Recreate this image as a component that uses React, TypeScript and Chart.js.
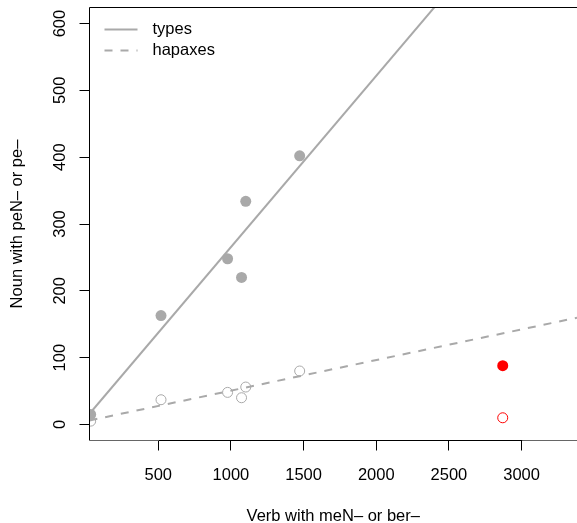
import React, { useEffect, useRef } from "react";
import { Chart, registerables } from "chart.js";

Chart.register(...registerables);

// ---- data ----
const verbCounts = [35, 519, 977, 1073, 1102, 1473];
const nounTypes = [15, 163, 248, 220, 334, 402];
const nounHapaxes = [5, 37, 48, 40, 56, 80];
const outlierVerb = [2870];
const outlierTypes = [88];
const outlierHapaxes = [10];
const xTicks = [500, 1000, 1500, 2000, 2500, 3000];
const yTicks = [0, 100, 200, 300, 400, 500, 600];
const xRange = [27, 3381];
const yRange = [-24, 624];
const legendLabels = ["types", "hapaxes"];
const xTitle = "Verb with meN\u2013 or ber\u2013";
const yTitle = "Noun with peN\u2013 or pe\u2013";

const FONT = "'Liberation Sans', Arial, Helvetica, sans-serif";
const GRAY = "#A9A9A9";
const RED = "#FF0000";
const DASH = [8, 8];

function leastSquares(xs: number[], ys: number[]) {
  const n = xs.length;
  const mx = xs.reduce((a, b) => a + b, 0) / n;
  const my = ys.reduce((a, b) => a + b, 0) / n;
  let sxy = 0;
  let sxx = 0;
  for (let i = 0; i < n; i++) {
    sxy += (xs[i] - mx) * (ys[i] - my);
    sxx += (xs[i] - mx) * (xs[i] - mx);
  }
  const slope = sxy / sxx;
  return { intercept: my - slope * mx, slope };
}

function fitLine(xs: number[], ys: number[]) {
  const { intercept, slope } = leastSquares(xs, ys);
  return [xRange[0], xRange[1]].map((x) => ({ x, y: intercept + slope * x }));
}

const framePlugin = {
  id: "frameAndLegend",
  afterDraw(chart: any) {
    const { ctx, chartArea } = chart;
    const { left, right, top, bottom } = chartArea;
    const xs = chart.scales.x;
    const ys = chart.scales.y;
    ctx.save();
    ctx.lineWidth = 1;
    ctx.setLineDash([]);
    // box (top + left)
    ctx.strokeStyle = "#000";
    ctx.beginPath();
    ctx.moveTo(left, bottom);
    ctx.lineTo(left, top);
    ctx.lineTo(right, top);
    ctx.stroke();
    // bottom box parts outside the axis range
    const x0 = Math.round(xs.getPixelForValue(xTicks[0])) + 0.5;
    const x1 = Math.round(xs.getPixelForValue(xTicks[xTicks.length - 1])) + 0.5;
    ctx.strokeStyle = "#666";
    ctx.beginPath();
    ctx.moveTo(left, bottom);
    ctx.lineTo(x0, bottom);
    ctx.moveTo(x1, bottom);
    ctx.lineTo(right, bottom);
    ctx.stroke();
    ctx.strokeStyle = "#000";
    ctx.beginPath();
    ctx.moveTo(x0, bottom);
    ctx.lineTo(x1, bottom);
    ctx.stroke();
    const y0 = ys.getPixelForValue(yTicks[0]);
    const y1 = ys.getPixelForValue(yTicks[yTicks.length - 1]);
    ctx.beginPath();
    ctx.moveTo(left, y0);
    ctx.lineTo(left, y1);
    ctx.stroke();

    // legend
    const lx0 = left + 15;
    const lx1 = left + 48;
    const tx = left + 63;
    const rowY = [top + 22, top + 43];
    ctx.lineWidth = 2;
    ctx.strokeStyle = GRAY;
    legendLabels.forEach((label, i) => {
      ctx.setLineDash(i === 0 ? [] : DASH);
      ctx.beginPath();
      ctx.moveTo(lx0, rowY[i]);
      ctx.lineTo(lx1, rowY[i]);
      ctx.stroke();
      ctx.setLineDash([]);
      ctx.fillStyle = "#000";
      ctx.font = `16.5px ${FONT}`;
      ctx.textAlign = "left";
      ctx.textBaseline = "alphabetic";
      ctx.fillText(label, tx, rowY[i] + 4);
    });
    ctx.restore();
  },
};

export default function App() {
  const ref = useRef<HTMLCanvasElement | null>(null);

  useEffect(() => {
    if (!ref.current) return;
    const typesPts = verbCounts.map((x, i) => ({ x, y: nounTypes[i] }));
    const hapaxPts = verbCounts.map((x, i) => ({ x, y: nounHapaxes[i] }));
    const redTypes = outlierVerb.map((x, i) => ({ x, y: outlierTypes[i] }));
    const redHapax = outlierVerb.map((x, i) => ({ x, y: outlierHapaxes[i] }));

    const chart = new Chart(ref.current, {
      type: "scatter",
      data: {
        datasets: [
          {
            label: "types fit",
            type: "line",
            data: fitLine(verbCounts, nounTypes),
            borderColor: GRAY,
            borderWidth: 2,
            pointRadius: 0,
            fill: false,
            clip: 0,
            order: 0,
          } as any,
          {
            label: "hapaxes fit",
            type: "line",
            data: fitLine(verbCounts, nounHapaxes),
            borderColor: GRAY,
            borderWidth: 2,
            borderDash: DASH,
            pointRadius: 0,
            fill: false,
            clip: 0,
            order: 1,
          } as any,
          {
            label: "types",
            data: typesPts,
            backgroundColor: GRAY,
            borderColor: GRAY,
            borderWidth: 0,
            pointRadius: 5.5,
            clip: 0,
            order: 2,
          },
          {
            label: "hapaxes",
            data: hapaxPts,
            backgroundColor: "rgba(0,0,0,0)",
            borderColor: GRAY,
            borderWidth: 1,
            pointRadius: 5,
            clip: 0,
            order: 3,
          },
          {
            label: "outlier types",
            data: redTypes,
            backgroundColor: RED,
            borderColor: RED,
            borderWidth: 0,
            pointRadius: 5.5,
            clip: 0,
            order: 4,
          },
          {
            label: "outlier hapaxes",
            data: redHapax,
            backgroundColor: "rgba(0,0,0,0)",
            borderColor: RED,
            borderWidth: 1,
            pointRadius: 5,
            clip: 0,
            order: 5,
          },
        ],
      },
      options: {
        animation: false,
        responsive: false,
        devicePixelRatio: 1,
        events: [],
        layout: { autoPadding: false, padding: { left: 0, right: 0, top: 7.5, bottom: 0 } },
        plugins: {
          legend: { display: false },
          tooltip: { enabled: false },
        },
        scales: {
          x: {
            type: "linear",
            position: "bottom",
            min: xRange[0],
            max: xRange[1],
            afterBuildTicks: (s: any) => {
              s.ticks = xTicks.map((value) => ({ value }));
            },
            afterFit: (s: any) => {
              s.height = 82.5;
              s.paddingLeft = 0;
              s.paddingRight = 0;
              s.paddingTop = 0;
              s.paddingBottom = 0;
            },
            grid: {
              display: true,
              drawOnChartArea: false,
              drawTicks: true,
              tickLength: 10,
              color: "#000",
              lineWidth: 1,
            },
            border: { display: false },
            ticks: {
              autoSkip: false,
              maxRotation: 0,
              minRotation: 0,
              padding: 15,
              color: "#000",
              font: { family: FONT, size: 16.5 },
              callback: (v: any) => String(v),
            },
            title: {
              display: true,
              text: xTitle,
              color: "#000",
              font: { family: FONT, size: 16.5, lineHeight: 0.85 },
              padding: 0,
            },
          },
          y: {
            type: "linear",
            position: "left",
            min: yRange[0],
            max: yRange[1],
            afterBuildTicks: (s: any) => {
              s.ticks = yTicks.map((value) => ({ value }));
            },
            afterFit: (s: any) => {
              s.width = 89.5;
              s.paddingLeft = 0;
              s.paddingRight = 0;
              s.paddingTop = 0;
              s.paddingBottom = 0;
            },
            grid: {
              display: true,
              drawOnChartArea: false,
              drawTicks: true,
              tickLength: 10,
              color: "#000",
              lineWidth: 1,
            },
            border: { display: false },
            ticks: {
              autoSkip: false,
              minRotation: 90,
              maxRotation: 90,
              crossAlign: "center",
              padding: 5,
              color: "#000",
              font: { family: FONT, size: 16.5 },
              callback: (v: any) => String(v),
            },
            title: {
              display: true,
              text: yTitle,
              color: "#000",
              font: { family: FONT, size: 16.5, lineHeight: 1 },
              padding: { top: 9.35, bottom: 0 },
            },
          },
        },
      } as any,
      plugins: [framePlugin],
    });
    return () => chart.destroy();
  }, []);

  return (
    <div
      style={{
        position: "absolute",
        left: 0,
        top: 0,
        width: 577,
        height: 523,
        overflow: "hidden",
        background: "#fff",
      }}
    >
      <canvas ref={ref} width={577} height={523} style={{ width: 577, height: 523, display: "block" }} />
    </div>
  );
}
